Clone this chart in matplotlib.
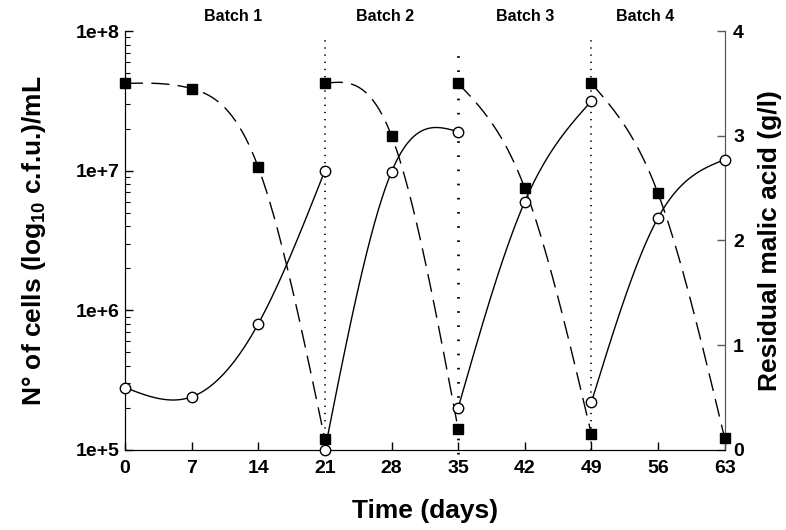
import numpy as np
import matplotlib
matplotlib.use("Agg")
import matplotlib.pyplot as plt

plt.rcParams['font.family'] = ['Liberation Sans', 'DejaVu Sans']
plt.rcParams['font.weight'] = 'bold'
plt.rcParams['mathtext.fontset'] = 'custom'
plt.rcParams['mathtext.bf'] = 'Liberation Sans:bold'
plt.rcParams['mathtext.rm'] = 'Liberation Sans:bold'
plt.rcParams['mathtext.default'] = 'bf'

# 每个批次的采样日 / 数据
batch_days = [[0, 7, 14, 21], [21, 28, 35], [35, 42, 49], [49, 56, 63]]
cells = [[2.8e5, 2.4e5, 8.0e5, 1.0e7],
         [1.0e5, 9.8e6, 1.9e7],
         [2.0e5, 6.0e6, 3.15e7],
         [2.2e5, 4.6e6, 1.2e7]]
malic = [[3.5, 3.45, 2.7, 0.1],
         [3.5, 3.0, 0.2],
         [3.5, 2.5, 0.15],
         [3.5, 2.45, 0.11]]
batch_names = ["Batch 1", "Batch 2", "Batch 3", "Batch 4"]
batch_ends = [21, 35, 49]
x_ticks = [0, 7, 14, 21, 28, 35, 42, 49, 56, 63]


def natural_spline(x, y, n=80):
    # 自然三次样条，仅用于画平滑连线
    x = np.asarray(x, float)
    y = np.asarray(y, float)
    N = len(x)
    h = np.diff(x)
    A = np.zeros((N, N))
    b = np.zeros(N)
    A[0, 0] = 1
    A[-1, -1] = 1
    for i in range(1, N - 1):
        A[i, i - 1] = h[i - 1]
        A[i, i] = 2 * (h[i - 1] + h[i])
        A[i, i + 1] = h[i]
        b[i] = 6 * ((y[i + 1] - y[i]) / h[i] - (y[i] - y[i - 1]) / h[i - 1])
    M = np.linalg.solve(A, b)
    xs, ys = [], []
    for i in range(N - 1):
        t = np.linspace(x[i], x[i + 1], n)
        a = (x[i + 1] - t) / h[i]
        c = (t - x[i]) / h[i]
        s = (a * y[i] + c * y[i + 1]
             + ((a**3 - a) * M[i] + (c**3 - c) * M[i + 1]) * h[i]**2 / 6)
        xs.append(t)
        ys.append(s)
    return np.concatenate(xs), np.concatenate(ys)


fig = plt.figure(figsize=(7.86, 5.30), dpi=100)
ax = fig.add_axes([0.159, 0.151, 0.763, 0.7905])
ax2 = ax.twinx()

for days, c, m in zip(batch_days, cells, malic):
    sx, sy = natural_spline(days, m)
    ax2.plot(sx, sy, color='black', lw=1.0, dashes=(13, 6), zorder=2, clip_on=False)
    ax2.plot(days, m, 's', color='black', ms=7, zorder=4, clip_on=False)
    # 细胞数在对数轴上，换算到右轴坐标下绘制
    cx, cy = natural_spline(days, np.log10(c))
    ax2.plot(cx, (cy - 5) * 4 / 3, color='black', lw=1.0, zorder=3, clip_on=False)
    ax2.plot(days, (np.log10(c) - 5) * 4 / 3, 'o', mfc='white', mec='black', mew=1.0,
             ms=7.5, zorder=5, clip_on=False)

# 批次分隔虚线
for xb in batch_ends:
    if xb == 35:
        ax.axvline(xb, ymin=-0.01, ymax=0.97, color='black', lw=2.0,
                   linestyle=(0, (0.6, 4.5)), clip_on=False, zorder=1)
    else:
        ax.axvline(xb, ymin=0, ymax=0.99, color='black', lw=1.2,
                   linestyle=(0, (0.8, 3.5)), clip_on=False, zorder=1)

ax.set_yscale('log')
ax.set_ylim(1e5, 1e8)
ax.set_xlim(0, 63)
ax2.set_ylim(0, 4)
ax.set_xticks(x_ticks)
ax.set_yticks([1e5, 1e6, 1e7, 1e8])
ax.set_yticklabels(["1e+5", "1e+6", "1e+7", "1e+8"])
ax2.set_yticks([0, 1, 2, 3, 4])

for a in (ax, ax2):
    a.spines['top'].set_visible(False)
    a.tick_params(direction='in', labelsize=14, length=6, width=1)
ax.tick_params(which='minor', direction='in', length=3.5, width=0.8)
ax2.spines['right'].set_color('0.35')
ax.spines['right'].set_color('0.35')
ax2.tick_params(axis='y', colors='0.35', labelcolor='black', pad=6)
ax.tick_params(axis='x', pad=7)
ax.tick_params(axis='y', pad=4)

ax.set_xlabel("Time (days)", fontsize=19, fontweight='bold', labelpad=16)
ax.set_ylabel(r"N° of cells (log$_{10}$ c.f.u.)/mL", fontsize=19, fontweight='bold', labelpad=20)
ax2.set_ylabel("Residual malic acid (g/l)", fontsize=19, fontweight='bold', labelpad=10)

batch_x = [11.4, 27.3, 42.0, 54.6]
for name, bx in zip(batch_names, batch_x):
    ax.text(bx, 1.035, name, transform=ax.get_xaxis_transform(), ha='center', va='center',
            fontsize=11.5, fontweight='bold')

ax2.set_zorder(ax.get_zorder() + 1)
ax2.patch.set_visible(False)

fig.savefig("out.png", dpi=100)
